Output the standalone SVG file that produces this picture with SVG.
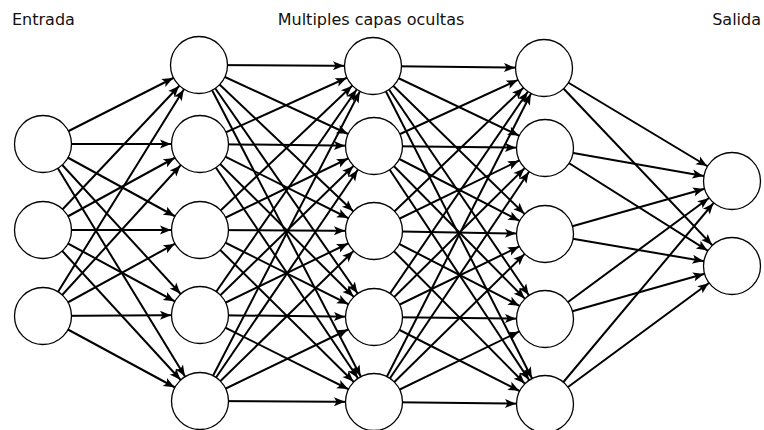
<svg xmlns="http://www.w3.org/2000/svg" width="764" height="430" viewBox="0 0 764 430">
<style>
  .lbl { font-family: "DejaVu Sans", "Liberation Sans", sans-serif; font-size: 16px; fill: #111; }
  .edge { stroke: #000; stroke-width: 2; marker-end: url(#ah); }
  .node { fill: #fff; stroke: #000; stroke-width: 1.3; }
</style>
<defs>
  <marker id="ah" markerUnits="userSpaceOnUse" markerWidth="12" markerHeight="10" refX="29" refY="0" orient="auto" overflow="visible">
    <path d="M-11,-4.5 L0,0 L-11,4.5 L-8.5,0 Z" fill="#000"/>
  </marker>
</defs>
<rect width="764" height="430" fill="#fff"/>
<text class="lbl" x="12" y="25">Entrada</text>
<text class="lbl" x="371" y="25" text-anchor="middle">Multiples capas ocultas</text>
<text class="lbl" x="761" y="25" text-anchor="end">Salida</text>
<g id="connectors">
  <!-- input -> hidden 1 -->
  <line class="edge" x1="43" y1="144" x2="199" y2="65"/>
  <line class="edge" x1="43" y1="144" x2="200" y2="144"/>
  <line class="edge" x1="43" y1="144" x2="200" y2="230"/>
  <line class="edge" x1="43" y1="144" x2="200" y2="315"/>
  <line class="edge" x1="43" y1="144" x2="200" y2="401"/>
  <line class="edge" x1="43" y1="230" x2="199" y2="65"/>
  <line class="edge" x1="43" y1="230" x2="200" y2="144"/>
  <line class="edge" x1="43" y1="230" x2="200" y2="230"/>
  <line class="edge" x1="43" y1="230" x2="200" y2="315"/>
  <line class="edge" x1="43" y1="230" x2="200" y2="401"/>
  <line class="edge" x1="43" y1="316" x2="199" y2="65"/>
  <line class="edge" x1="43" y1="316" x2="200" y2="144"/>
  <line class="edge" x1="43" y1="316" x2="200" y2="230"/>
  <line class="edge" x1="43" y1="316" x2="200" y2="315"/>
  <line class="edge" x1="43" y1="316" x2="200" y2="401"/>
  <!-- hidden 1 -> hidden 2 -->
  <line class="edge" x1="199" y1="65" x2="373" y2="66"/>
  <line class="edge" x1="199" y1="65" x2="374" y2="146"/>
  <line class="edge" x1="199" y1="65" x2="374" y2="231"/>
  <line class="edge" x1="199" y1="65" x2="374" y2="317"/>
  <line class="edge" x1="199" y1="65" x2="374" y2="402"/>
  <line class="edge" x1="200" y1="144" x2="373" y2="66"/>
  <line class="edge" x1="200" y1="144" x2="374" y2="146"/>
  <line class="edge" x1="200" y1="144" x2="374" y2="231"/>
  <line class="edge" x1="200" y1="144" x2="374" y2="317"/>
  <line class="edge" x1="200" y1="144" x2="374" y2="402"/>
  <line class="edge" x1="200" y1="230" x2="373" y2="66"/>
  <line class="edge" x1="200" y1="230" x2="374" y2="146"/>
  <line class="edge" x1="200" y1="230" x2="374" y2="231"/>
  <line class="edge" x1="200" y1="230" x2="374" y2="317"/>
  <line class="edge" x1="200" y1="230" x2="374" y2="402"/>
  <line class="edge" x1="200" y1="315" x2="373" y2="66"/>
  <line class="edge" x1="200" y1="315" x2="374" y2="146"/>
  <line class="edge" x1="200" y1="315" x2="374" y2="231"/>
  <line class="edge" x1="200" y1="315" x2="374" y2="317"/>
  <line class="edge" x1="200" y1="315" x2="374" y2="402"/>
  <line class="edge" x1="200" y1="401" x2="373" y2="66"/>
  <line class="edge" x1="200" y1="401" x2="374" y2="146"/>
  <line class="edge" x1="200" y1="401" x2="374" y2="231"/>
  <line class="edge" x1="200" y1="401" x2="374" y2="317"/>
  <line class="edge" x1="200" y1="401" x2="374" y2="402"/>
  <!-- hidden 2 -> hidden 3 -->
  <line class="edge" x1="373" y1="66" x2="544" y2="68"/>
  <line class="edge" x1="373" y1="66" x2="545" y2="148"/>
  <line class="edge" x1="373" y1="66" x2="545" y2="234"/>
  <line class="edge" x1="373" y1="66" x2="545" y2="319"/>
  <line class="edge" x1="373" y1="66" x2="545" y2="404"/>
  <line class="edge" x1="374" y1="146" x2="544" y2="68"/>
  <line class="edge" x1="374" y1="146" x2="545" y2="148"/>
  <line class="edge" x1="374" y1="146" x2="545" y2="234"/>
  <line class="edge" x1="374" y1="146" x2="545" y2="319"/>
  <line class="edge" x1="374" y1="146" x2="545" y2="404"/>
  <line class="edge" x1="374" y1="231" x2="544" y2="68"/>
  <line class="edge" x1="374" y1="231" x2="545" y2="148"/>
  <line class="edge" x1="374" y1="231" x2="545" y2="234"/>
  <line class="edge" x1="374" y1="231" x2="545" y2="319"/>
  <line class="edge" x1="374" y1="231" x2="545" y2="404"/>
  <line class="edge" x1="374" y1="317" x2="544" y2="68"/>
  <line class="edge" x1="374" y1="317" x2="545" y2="148"/>
  <line class="edge" x1="374" y1="317" x2="545" y2="234"/>
  <line class="edge" x1="374" y1="317" x2="545" y2="319"/>
  <line class="edge" x1="374" y1="317" x2="545" y2="404"/>
  <line class="edge" x1="374" y1="402" x2="544" y2="68"/>
  <line class="edge" x1="374" y1="402" x2="545" y2="148"/>
  <line class="edge" x1="374" y1="402" x2="545" y2="234"/>
  <line class="edge" x1="374" y1="402" x2="545" y2="319"/>
  <line class="edge" x1="374" y1="402" x2="545" y2="404"/>
  <!-- hidden 3 -> output -->
  <line class="edge" x1="544" y1="68" x2="732" y2="181"/>
  <line class="edge" x1="544" y1="68" x2="732" y2="266"/>
  <line class="edge" x1="545" y1="148" x2="732" y2="181"/>
  <line class="edge" x1="545" y1="148" x2="732" y2="266"/>
  <line class="edge" x1="545" y1="234" x2="732" y2="181"/>
  <line class="edge" x1="545" y1="234" x2="732" y2="266"/>
  <line class="edge" x1="545" y1="319" x2="732" y2="181"/>
  <line class="edge" x1="545" y1="319" x2="732" y2="266"/>
  <line class="edge" x1="545" y1="404" x2="732" y2="181"/>
  <line class="edge" x1="545" y1="404" x2="732" y2="266"/>
</g>
<g id="in1"><circle class="node" cx="43" cy="144" r="28.5"/></g>
<g id="in2"><circle class="node" cx="43" cy="230" r="28.5"/></g>
<g id="in3"><circle class="node" cx="43" cy="316" r="28.5"/></g>
<g id="h1n1"><circle class="node" cx="199" cy="65" r="28.5"/></g>
<g id="h1n2"><circle class="node" cx="200" cy="144" r="28.5"/></g>
<g id="h1n3"><circle class="node" cx="200" cy="230" r="28.5"/></g>
<g id="h1n4"><circle class="node" cx="200" cy="315" r="28.5"/></g>
<g id="h1n5"><circle class="node" cx="200" cy="401" r="28.5"/></g>
<g id="h2n1"><circle class="node" cx="373" cy="66" r="28.5"/></g>
<g id="h2n2"><circle class="node" cx="374" cy="146" r="28.5"/></g>
<g id="h2n3"><circle class="node" cx="374" cy="231" r="28.5"/></g>
<g id="h2n4"><circle class="node" cx="374" cy="317" r="28.5"/></g>
<g id="h2n5"><circle class="node" cx="374" cy="402" r="28.5"/></g>
<g id="h3n1"><circle class="node" cx="544" cy="68" r="28.5"/></g>
<g id="h3n2"><circle class="node" cx="545" cy="148" r="28.5"/></g>
<g id="h3n3"><circle class="node" cx="545" cy="234" r="28.5"/></g>
<g id="h3n4"><circle class="node" cx="545" cy="319" r="28.5"/></g>
<g id="h3n5"><circle class="node" cx="545" cy="404" r="28.5"/></g>
<g id="out1"><circle class="node" cx="732" cy="181" r="28.5"/></g>
<g id="out2"><circle class="node" cx="732" cy="266" r="28.5"/></g>
</svg>
